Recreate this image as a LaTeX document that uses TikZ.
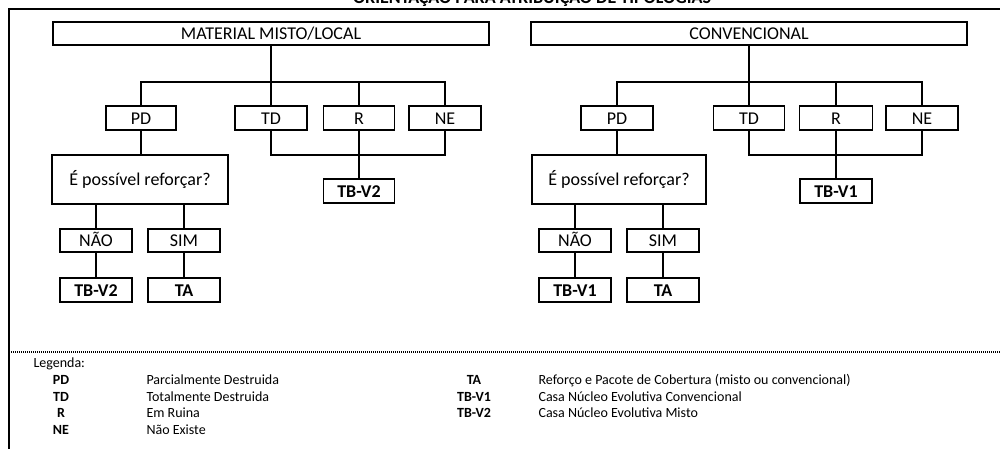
\documentclass[tikz,border=0pt]{standalone}
\usepackage{fontspec}
\setmainfont{Carlito}
\begin{document}
\begin{tikzpicture}[x=1pt,y=-1pt,
  box/.style={draw,line width=1.9pt,inner sep=0pt,text height=12.4pt,text depth=0pt,font=\fontsize{18}{21}\selectfont},
  resbox/.style={box,font=\bfseries\fontsize{18}{21}\selectfont},
  conn/.style={line width=1.9pt},
  legab/.style={font=\bfseries\fontsize{14}{16}\selectfont,anchor=base},
  legtx/.style={font=\fontsize{14}{16}\selectfont,anchor=base west}]
\useasboundingbox (0,0) rectangle (1000,449);
\clip (0,0) rectangle (1000,449);
% title (clipped at the top, as in the source)
\node[font=\bfseries\fontsize{18}{20}\selectfont,anchor=base,inner sep=0pt] (title) at (532,3.5) {ORIENTAÇÃO PARA ATRIBUIÇÃO DE TIPOLOGIAS};
% frame
\draw[line width=2pt] (9,449) -- (9,9) -- (1001,9);
\draw[line width=1.2pt,dash pattern=on 1pt off 1pt] (9,352) -- (1000,352);
% ---------------- left tree
\node[box,minimum width=436pt,minimum height=23pt] (mL) at (271,33.5) {MATERIAL MISTO/LOCAL};
\node[box,minimum width=70pt,minimum height=24pt] (pdL) at (141,118) {PD};
\node[box,minimum width=72pt,minimum height=24pt] (tdL) at (271,118) {TD};
\node[box,minimum width=71pt,minimum height=24pt] (rL) at (359,118) {R};
\node[box,minimum width=72pt,minimum height=24pt] (neL) at (445,118) {NE};
\node[box,minimum width=176pt,minimum height=49pt] (qL) at (140,179.5) {É possível reforçar?};
\node[resbox,minimum width=71pt,minimum height=24pt] (tbL) at (359,191) {TB-V2};
\node[box,minimum width=72pt,minimum height=23pt] (naoL) at (96,240.5) {NÃO};
\node[box,minimum width=72pt,minimum height=23pt] (simL) at (184,240.5) {SIM};
\node[resbox,minimum width=72pt,minimum height=24pt] (tb2L) at (96,290) {TB-V2};
\node[resbox,minimum width=72pt,minimum height=24pt] (taL) at (184,290) {TA};
\coordinate (jL) at (271,82);
\coordinate (kL) at (271,155);
\draw[conn] (mL.south) -- (jL);
\draw[conn] (pdL.north) |- (jL) -| (neL.north);
\draw[conn] (tdL.north) -- (jL);
\draw[conn] (rL.north) -- (rL.north |- jL);
\draw[conn] (tdL.south) -- (kL) -| (neL.south);
\draw[conn] (rL.south) -- (tbL.north);
\draw[conn] (pdL.south) -- (pdL.south |- qL.north);
\draw[conn] (naoL.north) -- (naoL.north |- qL.south);
\draw[conn] (simL.north) -- (simL.north |- qL.south);
\draw[conn] (naoL.south) -- (tb2L.north);
\draw[conn] (simL.south) -- (taL.north);
% ---------------- right tree
\node[box,minimum width=436pt,minimum height=23pt] (mR) at (749,33.5) {CONVENCIONAL};
\node[box,minimum width=72pt,minimum height=24pt] (pdR) at (617,118) {PD};
\node[box,minimum width=71pt,minimum height=24pt] (tdR) at (749,118) {TD};
\node[box,minimum width=73pt,minimum height=24pt] (rR) at (836,118) {R};
\node[box,minimum width=72pt,minimum height=24pt] (neR) at (922,118) {NE};
\node[box,minimum width=174pt,minimum height=49pt] (qR) at (619,179.5) {É possível reforçar?};
\node[resbox,minimum width=72pt,minimum height=24pt] (tbR) at (836,191) {TB-V1};
\node[box,minimum width=72pt,minimum height=23pt] (naoR) at (575,240.5) {NÃO};
\node[box,minimum width=72pt,minimum height=23pt] (simR) at (663,240.5) {SIM};
\node[resbox,minimum width=72pt,minimum height=24pt] (tb1R) at (575,290) {TB-V1};
\node[resbox,minimum width=72pt,minimum height=24pt] (taR) at (663,290) {TA};
\coordinate (jR) at (749,82);
\coordinate (kR) at (749,155);
\draw[conn] (mR.south) -- (jR);
\draw[conn] (pdR.north) |- (jR) -| (neR.north);
\draw[conn] (tdR.north) -- (jR);
\draw[conn] (rR.north) -- (rR.north |- jR);
\draw[conn] (tdR.south) -- (kR) -| (neR.south);
\draw[conn] (rR.south) -- (tbR.north);
\draw[conn] (pdR.south) -- (pdR.south |- qR.north);
\draw[conn] (naoR.north) -- (naoR.north |- qR.south);
\draw[conn] (simR.north) -- (simR.north |- qR.south);
\draw[conn] (naoR.south) -- (tb1R.north);
\draw[conn] (simR.south) -- (taR.north);
% ---------------- legend
\node[legtx] (leg) at (30,367) {Legenda:};
\node[legab] (aPD) at (61,384) {PD};
\node[legab] (aTD) at (61,401) {TD};
\node[legab] (aR) at (61,417) {R};
\node[legab] (aNE) at (61,434) {NE};
\node[legtx] (dPD) at (143,384) {Parcialmente Destruida};
\node[legtx] (dTD) at (143,401) {Totalmente Destruida};
\node[legtx] (dR) at (143,417) {Em Ruina};
\node[legtx] (dNE) at (143,434) {Não Existe};
\node[legab] (aTA) at (474,384) {TA};
\node[legab] (aTB1) at (474,401) {TB-V1};
\node[legab] (aTB2) at (474,417) {TB-V2};
\node[legtx] (dTA) at (535,384) {Reforço e Pacote de Cobertura (misto ou convencional)};
\node[legtx] (dTB1) at (535,401) {Casa Núcleo Evolutiva Convencional};
\node[legtx] (dTB2) at (535,417) {Casa Núcleo Evolutiva Misto};
\end{tikzpicture}
\end{document}
